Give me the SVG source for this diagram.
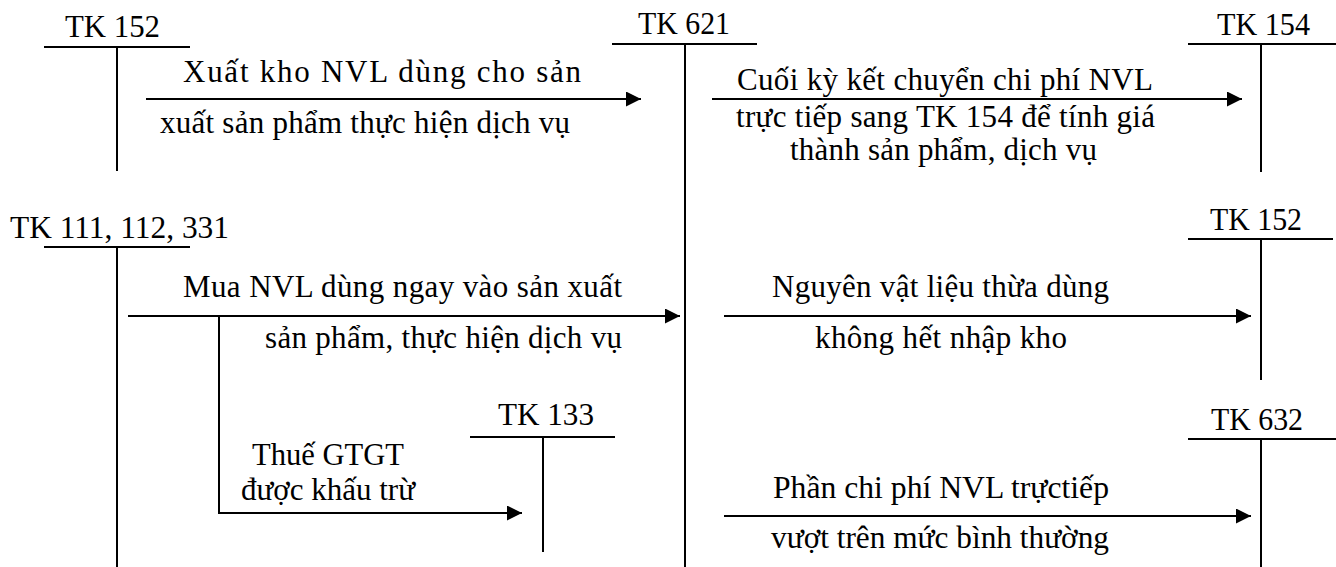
<svg xmlns="http://www.w3.org/2000/svg" width="1336" height="567" viewBox="0 0 1336 567">
<style>
  .ln { stroke: #000; stroke-width: 2; fill: none; }
  text { font-family: 'Liberation Serif', 'DejaVu Serif', serif; font-size: 31px; fill: #000; }
</style>
<defs>
  <marker id="ah" markerUnits="userSpaceOnUse" markerWidth="16" markerHeight="16" refX="15" refY="7.5" orient="auto">
    <path d="M0,0 L15,7.5 L0,15 Z" fill="#000"/>
  </marker>
</defs>
<rect width="1336" height="567" fill="#fff"/>

<g id="tk152-top">
  <text x="65" y="37" textLength="95" lengthAdjust="spacingAndGlyphs" font-family="Liberation Serif, serif">TK 152</text>
  <line class="ln" x1="44" y1="47" x2="190" y2="47"/>
  <line class="ln" x1="117" y1="47" x2="117" y2="171"/>
</g>
<g id="tk621">
  <text x="638" y="34" textLength="92" lengthAdjust="spacingAndGlyphs">TK 621</text>
  <line class="ln" x1="612" y1="44" x2="757" y2="44"/>
  <line class="ln" x1="685" y1="44" x2="685" y2="567"/>
</g>
<g id="tk154">
  <text x="1217" y="35" textLength="93" lengthAdjust="spacingAndGlyphs">TK 154</text>
  <line class="ln" x1="1188" y1="44" x2="1336" y2="44"/>
  <line class="ln" x1="1261" y1="44" x2="1261" y2="172"/>
</g>
<g id="tk111">
  <text x="10" y="238" textLength="219" lengthAdjust="spacingAndGlyphs">TK 111, 112, 331</text>
  <line class="ln" x1="44" y1="247" x2="190" y2="247"/>
  <line class="ln" x1="117" y1="247" x2="117" y2="567"/>
</g>
<g id="tk152-right">
  <text x="1210" y="230" textLength="92" lengthAdjust="spacingAndGlyphs">TK 152</text>
  <line class="ln" x1="1188" y1="239" x2="1333" y2="239"/>
  <line class="ln" x1="1261" y1="239" x2="1261" y2="380"/>
</g>
<g id="tk133">
  <text x="498" y="425" textLength="96" lengthAdjust="spacingAndGlyphs">TK 133</text>
  <line class="ln" x1="470" y1="437" x2="615" y2="437"/>
  <line class="ln" x1="543" y1="437" x2="543" y2="552"/>
</g>
<g id="tk632">
  <text x="1211" y="430" textLength="92" lengthAdjust="spacingAndGlyphs">TK 632</text>
  <line class="ln" x1="1188" y1="439" x2="1336" y2="439"/>
  <line class="ln" x1="1261" y1="439" x2="1261" y2="567"/>
</g>

<g id="connectors">
  <line class="ln" x1="146" y1="99" x2="641" y2="99" marker-end="url(#ah)"/>
  <line class="ln" x1="712" y1="99" x2="1242" y2="99" marker-end="url(#ah)"/>
  <line class="ln" x1="128" y1="316" x2="680" y2="316" marker-end="url(#ah)"/>
  <line class="ln" x1="724" y1="316" x2="1251" y2="316" marker-end="url(#ah)"/>
  <polyline class="ln" points="219,316 219,513 522,513" marker-end="url(#ah)"/>
  <line class="ln" x1="724" y1="516" x2="1251" y2="516" marker-end="url(#ah)"/>
</g>

<g id="labels">
  <text x="183" y="82" textLength="398" lengthAdjust="spacing">Xuất kho NVL dùng cho sản</text>
  <text x="160" y="133" textLength="410" lengthAdjust="spacing">xuất sản phẩm thực hiện dịch vụ</text>
  <text x="737" y="90" textLength="416" lengthAdjust="spacing">Cuối kỳ kết chuyển chi phí NVL</text>
  <text x="736" y="127" textLength="419" lengthAdjust="spacing">trực tiếp sang TK 154 để tính giá</text>
  <text x="790" y="160" textLength="307" lengthAdjust="spacing">thành sản phẩm, dịch vụ</text>
  <text x="183" y="297" textLength="439" lengthAdjust="spacing">Mua NVL dùng ngay vào sản xuất</text>
  <text x="265" y="348" textLength="357" lengthAdjust="spacing">sản phẩm, thực hiện dịch vụ</text>
  <text x="772" y="297" textLength="337" lengthAdjust="spacing">Nguyên vật liệu thừa dùng</text>
  <text x="815" y="348" textLength="252" lengthAdjust="spacing">không hết nhập kho</text>
  <text x="252" y="465" textLength="152" lengthAdjust="spacingAndGlyphs">Thuế GTGT</text>
  <text x="241" y="500" textLength="174" lengthAdjust="spacingAndGlyphs">được khấu trừ</text>
  <text x="773" y="498" textLength="336" lengthAdjust="spacingAndGlyphs">Phần chi phí NVL trựctiếp</text>
  <text x="771" y="548" textLength="338" lengthAdjust="spacingAndGlyphs">vượt trên mức bình thường</text>
</g>
</svg>
